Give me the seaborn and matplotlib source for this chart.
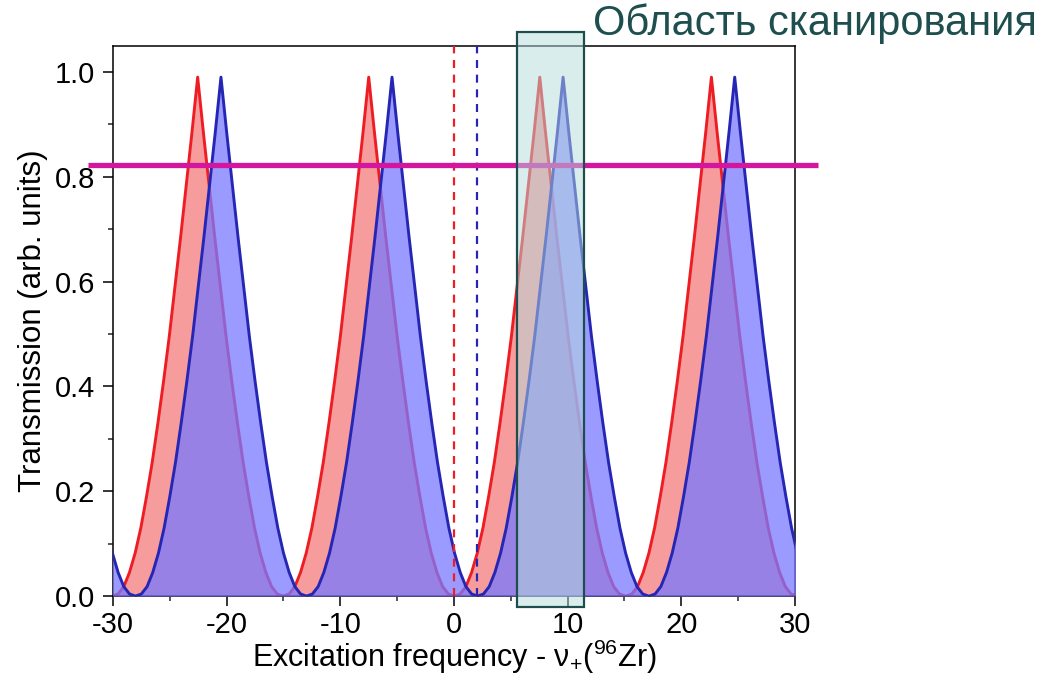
import numpy as np
import matplotlib
matplotlib.use("Agg")
import matplotlib.pyplot as plt
from matplotlib.patches import Rectangle
from matplotlib.ticker import MultipleLocator
import seaborn as sns

# Transmission line shape around one resonance: value vs distance from the peak
peak_offsets = [0.0, 0.5, 1.0, 1.5, 2.0, 2.5, 3.0, 3.5, 4.0, 4.5, 5.0, 5.5, 6.0, 6.5, 7.0, 7.5]
peak_profile = [0.99, 0.885, 0.785, 0.685, 0.59, 0.495, 0.41, 0.33, 0.255, 0.19,
                0.13, 0.082, 0.045, 0.018, 0.004, 0.0]

# Resonance positions of the two isotopes' transmission combs
red_peaks = [-22.55, -7.5, 7.55, 22.65]
blue_peaks = [-35.55, -20.5, -5.45, 9.6, 24.7]

# Reference frequencies (dashed markers)
red_marker = 0.0
blue_marker = 2.0

# Transmission threshold level
threshold = 0.822
threshold_span = [-32.2, 32.0]

# Scanning window
scan_lo, scan_hi = 5.55, 11.45
scan_bottom, scan_top = -0.021, 1.076

x_ticks = [-30, -20, -10, 0, 10, 20, 30]
y_ticks = [0.0, 0.2, 0.4, 0.6, 0.8, 1.0]


def comb(peaks):
    offs = np.asarray(peak_offsets)
    prof = np.asarray(peak_profile)
    rel_x = np.concatenate([-offs[::-1], offs[1:]])
    rel_y = np.concatenate([prof[::-1], prof[1:]])
    xs = np.concatenate([p + rel_x for p in peaks])
    ys = np.concatenate([rel_y for _ in peaks])
    return xs, ys


sns.set_theme(style="ticks")
plt.rcParams["font.family"] = ["Liberation Sans", "DejaVu Sans"]
plt.rcParams["mathtext.fontset"] = "custom"
plt.rcParams["mathtext.rm"] = "Liberation Sans"
plt.rcParams["mathtext.it"] = "Liberation Sans:italic"
plt.rcParams["mathtext.default"] = "regular"

fig = plt.figure(figsize=(10.56, 6.76), dpi=100)
ax = fig.add_axes([0.107, 0.1183, 0.6458, 0.8141])

rx, ry = comb(red_peaks)
bx, by = comb(blue_peaks)

RED_LINE = "#ee1d24"
BLUE_LINE = "#2626b4"

ax.fill_between(rx, 0, ry, color="#f69c9c", lw=0, zorder=1)
sns.lineplot(x=rx, y=ry, ax=ax, color=RED_LINE, lw=2.1, estimator=None, sort=False, zorder=2)
ax.fill_between(bx, 0, by, color="#7878ff", alpha=0.75, lw=0, zorder=3)
sns.lineplot(x=bx, y=by, ax=ax, color=BLUE_LINE, lw=2.1, estimator=None, sort=False, zorder=4)

ax.axvline(red_marker, color=RED_LINE, lw=1.6, ls=(0, (3.6, 3.0)), zorder=5)
ax.axvline(blue_marker, color=BLUE_LINE, lw=1.6, ls=(0, (3.6, 3.0)), zorder=5)

ax.plot(threshold_span, [threshold, threshold], color="#d4169e", lw=3.8,
        clip_on=False, zorder=7, solid_capstyle="butt")

ax.add_patch(Rectangle((scan_lo, scan_bottom), scan_hi - scan_lo, scan_top - scan_bottom,
                       facecolor="#b4dddd", alpha=0.5, edgecolor="none",
                       clip_on=False, zorder=8))
ax.add_patch(Rectangle((scan_lo, scan_bottom), scan_hi - scan_lo, scan_top - scan_bottom,
                       facecolor="none", edgecolor="#1f4c4c", lw=1.6,
                       clip_on=False, zorder=9))

ax.set_xlim(-30, 30)
ax.set_ylim(0, 1.05)
ax.set_xticks(x_ticks)
ax.set_yticks(y_ticks)
ax.set_xticklabels([str(t) for t in x_ticks])
ax.set_yticklabels([f"{t:.1f}" for t in y_ticks])
ax.xaxis.set_minor_locator(MultipleLocator(5))
ax.yaxis.set_minor_locator(MultipleLocator(0.1))
ax.tick_params(which="major", direction="out", length=7, width=1.1, labelsize=21,
               colors="black", pad=6, top=False, right=False)
ax.tick_params(which="major", axis="x", pad=4)
ax.tick_params(which="minor", direction="out", length=3.5, width=1.1,
               top=False, right=False)
for s in ax.spines.values():
    s.set_visible(True)
    s.set_color("black")
    s.set_linewidth(1.1)
ax.set_facecolor("white")
ax.grid(False)

ax.set_xlabel("Excitation frequency - ν$_{+}$($^{96}$Zr)", fontsize=22, color="black", labelpad=-1)
ax.set_ylabel("Transmission (arb. units)", fontsize=22.5, color="black", labelpad=5)

fig.text(0.5616, 0.9475, "Область сканирования", fontsize=30, color="#1e4e4e",
         ha="left", va="baseline")

fig.savefig("out.png", dpi=100, facecolor="white")
